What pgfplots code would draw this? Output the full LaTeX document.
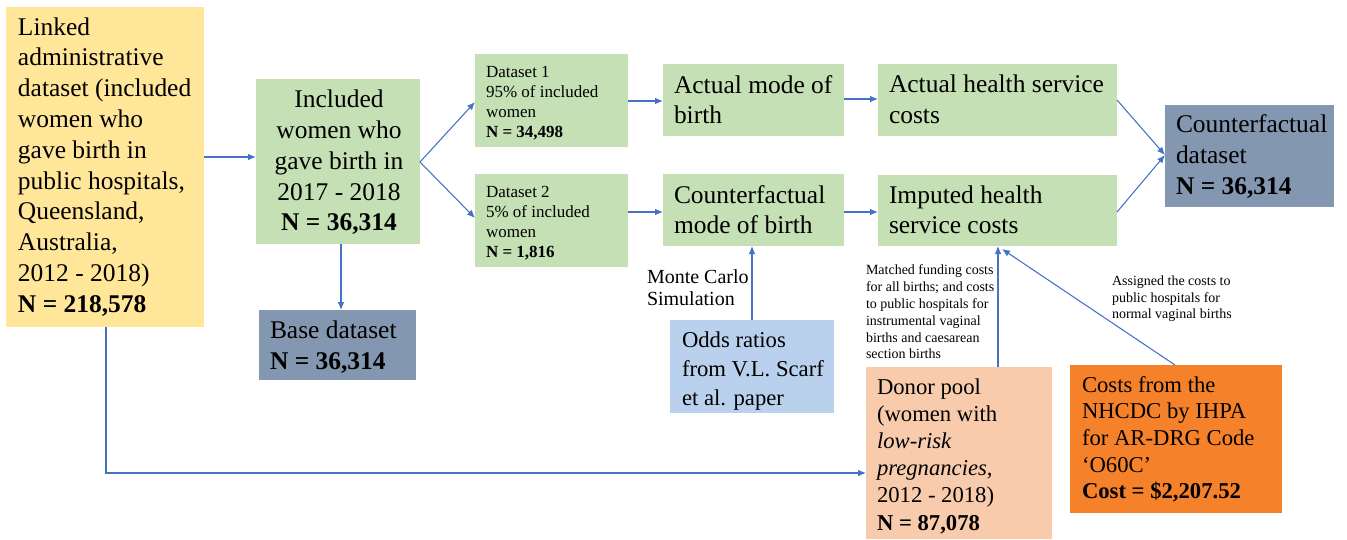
\documentclass[border=0pt]{standalone}
\usepackage{pgfplots}
\pgfplotsset{compat=1.18}
\usepackage{fontspec}
\setmainfont{Liberation Serif}
\usetikzlibrary{arrows.meta}
\definecolor{cyellow}{HTML}{FFE699}
\definecolor{cgreen}{HTML}{C5E0B4}
\definecolor{cslate}{HTML}{8497B0}
\definecolor{cblue}{HTML}{BAD1EE}
\definecolor{cpeach}{HTML}{F8CBAD}
\definecolor{corange}{HTML}{F5822A}
\definecolor{carrow}{HTML}{4472C4}
\newcommand\Lg{\fontsize{19.1}{23}\selectfont}
\newcommand\Md{\fontsize{17}{20}\selectfont}
\newcommand\Ds{\fontsize{12.75}{15}\selectfont}
\newcommand\Mc{\fontsize{15}{17}\selectfont}
\newcommand\Tn{\fontsize{10.5}{12.5}\selectfont}
\tikzset{every node/.style={inner sep=0pt, outer sep=0pt}}
\begin{document}
\begin{tikzpicture}
\begin{axis}[
  scale only axis, width=1010.25pt, height=404.25pt,
  xmin=0, xmax=1347, ymin=0, ymax=539, y dir=reverse,
  axis lines=none, clip=false,
]
\path (axis cs:0,0) (axis cs:1347,539);
% boxes
\fill[cyellow] (axis cs:6,7) rectangle (axis cs:204,327);
\fill[cgreen] (axis cs:256,79) rectangle (axis cs:420,244);
\fill[cslate] (axis cs:259,310) rectangle (axis cs:416,380);
\fill[cgreen] (axis cs:475,54) rectangle (axis cs:628,147);
\fill[cgreen] (axis cs:475,174) rectangle (axis cs:628,267);
\fill[cgreen] (axis cs:663,64) rectangle (axis cs:844,136);
\fill[cgreen] (axis cs:663,174) rectangle (axis cs:844,246);
\fill[cgreen] (axis cs:878,64) rectangle (axis cs:1117,136);
\fill[cgreen] (axis cs:878,175) rectangle (axis cs:1117,246);
\fill[cslate] (axis cs:1165,105) rectangle (axis cs:1334,207);
\fill[cblue] (axis cs:670,320) rectangle (axis cs:834,413);
\fill[cpeach] (axis cs:866,367) rectangle (axis cs:1052,539);
\fill[corange] (axis cs:1070,365) rectangle (axis cs:1282,513);
% arrows
\tikzset{arr/.style={draw=carrow, line width=0.8pt, -{Latex[length=6pt,width=5pt]}}}
\draw[arr] (axis cs:204,157) -- (axis cs:256,157);
\draw[arr] (axis cs:420,162) -- (axis cs:475,102);
\draw[arr] (axis cs:420,162) -- (axis cs:475,218);
\draw[arr] (axis cs:628,101) -- (axis cs:663,101);
\draw[arr] (axis cs:628,212) -- (axis cs:663,212);
\draw[arr] (axis cs:844,99) -- (axis cs:878,99);
\draw[arr] (axis cs:844,212) -- (axis cs:878,212);
\draw[arr] (axis cs:1117,100) -- (axis cs:1165,155);
\draw[arr] (axis cs:1117,212) -- (axis cs:1165,155);
\draw[arr] (axis cs:341,244) -- (axis cs:341,310);
\draw[arr] (axis cs:752,320) -- (axis cs:752,246);
\draw[arr] (axis cs:998,367) -- (axis cs:998,246);
\draw[arr] (axis cs:1175,365) -- (axis cs:1002,249);
\draw[arr] (axis cs:106,327) -- (axis cs:106,473) -- (axis cs:866,473);
\tikzset{T/.style={anchor=base west, inner sep=0pt}, C/.style={anchor=base, inner sep=0pt}}
% Box 1
\node[T,font=\Lg] at (axis cs:18,35) {Linked};
\node[T,font=\Lg] at (axis cs:18,65.8) {administrative};
\node[T,font=\Lg] at (axis cs:18,96.6) {dataset (included};
\node[T,font=\Lg] at (axis cs:18,127.4) {women who};
\node[T,font=\Lg] at (axis cs:18,158.2) {gave birth in};
\node[T,font=\Lg] at (axis cs:18,189) {public hospitals,};
\node[T,font=\Lg] at (axis cs:18,219.8) {Queensland,};
\node[T,font=\Lg] at (axis cs:18,250.6) {Australia,};
\node[T,font=\Lg] at (axis cs:18,281.4) {2012 - 2018)};
\node[T,font=\Lg\bfseries] at (axis cs:18,312.2) {N = 218,578};
% Box 2
\node[C,font=\Lg] at (axis cs:339,107) {Included};
\node[C,font=\Lg] at (axis cs:339,138) {women who};
\node[C,font=\Lg] at (axis cs:339,169) {gave birth in};
\node[C,font=\Lg] at (axis cs:339,200) {2017 - 2018};
\node[C,font=\Lg\bfseries] at (axis cs:339,230) {N = 36,314};
% Base dataset
\node[T,font=\Lg] at (axis cs:270,338) {Base dataset};
\node[T,font=\Lg\bfseries] at (axis cs:270,369) {N = 36,314};
% Dataset 1
\node[T,font=\Ds] at (axis cs:486,77) {Dataset 1};
\node[T,font=\Ds] at (axis cs:486,97) {95\% of included};
\node[T,font=\Ds] at (axis cs:486,117) {women};
\node[T,font=\Ds\bfseries] at (axis cs:486,137) {N = 34,498};
% Dataset 2
\node[T,font=\Ds] at (axis cs:486,197) {Dataset 2};
\node[T,font=\Ds] at (axis cs:486,217) {5\% of included};
\node[T,font=\Ds] at (axis cs:486,237) {women};
\node[T,font=\Ds\bfseries] at (axis cs:486,257) {N = 1,816};
% Actual mode
\node[T,font=\Lg] at (axis cs:674,93) {Actual mode of};
\node[T,font=\Lg] at (axis cs:674,123) {birth};
% Counterfactual mode
\node[T,font=\Lg] at (axis cs:674,203) {Counterfactual};
\node[T,font=\Lg] at (axis cs:674,233) {mode of birth};
% Actual costs
\node[T,font=\Lg] at (axis cs:889,92) {Actual health service};
\node[T,font=\Lg] at (axis cs:889,123) {costs};
% Imputed
\node[T,font=\Lg] at (axis cs:889,203) {Imputed health};
\node[T,font=\Lg] at (axis cs:889,233) {service costs};
% Counterfactual dataset
\node[T,font=\Lg] at (axis cs:1176,132) {Counterfactual};
\node[T,font=\Lg] at (axis cs:1176,163) {dataset};
\node[T,font=\Lg\bfseries] at (axis cs:1176,194) {N = 36,314};
% Monte Carlo
\node[T,font=\Mc] at (axis cs:647,283) {Monte Carlo};
\node[T,font=\Mc] at (axis cs:647,305) {Simulation};
% Odds ratios
\node[T,font=\Md] at (axis cs:682,347) {Odds ratios};
\node[T,font=\Md] at (axis cs:682,376) {from V.L. Scarf};
\node[T,font=\Md] at (axis cs:682,405) {et al. paper};
% Matched funding
\node[T,font=\Tn] at (axis cs:866,274) {Matched funding costs};
\node[T,font=\Tn] at (axis cs:866,291) {for all births; and costs};
\node[T,font=\Tn] at (axis cs:866,308) {to public hospitals for};
\node[T,font=\Tn] at (axis cs:866,325) {instrumental vaginal};
\node[T,font=\Tn] at (axis cs:866,342) {births and caesarean};
\node[T,font=\Tn] at (axis cs:866,358) {section births};
% Assigned
\node[T,font=\Tn] at (axis cs:1112,285) {Assigned the costs to};
\node[T,font=\Tn] at (axis cs:1112,302) {public hospitals for};
\node[T,font=\Tn] at (axis cs:1112,318) {normal vaginal births};
% Donor pool
\node[T,font=\Md] at (axis cs:877,394) {Donor pool};
\node[T,font=\Md] at (axis cs:877,421) {(women with};
\node[T,font=\Md] at (axis cs:877,448) {\itshape low-risk};
\node[T,font=\Md] at (axis cs:877,475) {\textit{pregnancies},};
\node[T,font=\Md] at (axis cs:877,502) {2012 - 2018)};
\node[T,font=\Md\bfseries] at (axis cs:877,530) {N = 87,078};
% Costs NHCDC
\node[T,font=\Md] at (axis cs:1082,392) {Costs from the};
\node[T,font=\Md] at (axis cs:1082,418) {NHCDC by IHPA};
\node[T,font=\Md] at (axis cs:1082,445) {for AR-DRG Code};
\node[T,font=\Md] at (axis cs:1082,472) {‘O60C’};
\node[T,font=\Md\bfseries] at (axis cs:1082,498) {Cost = \$2,207.52};
\end{axis}
\end{tikzpicture}
\end{document}
